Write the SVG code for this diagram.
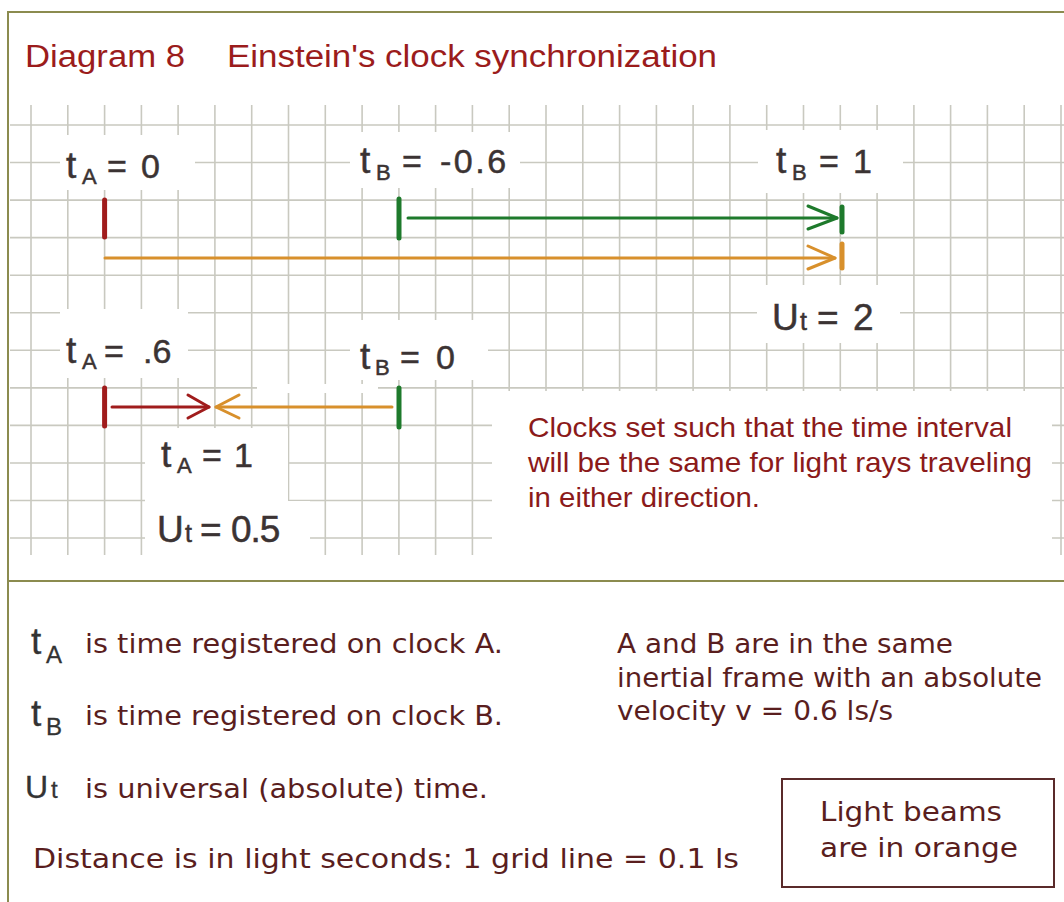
<svg xmlns="http://www.w3.org/2000/svg" width="1064" height="902" viewBox="0 0 1064 902">
<style>
.grid{stroke:#c9c9c0;stroke-width:1.6;fill:none}
.frame{stroke:#8b8b4f;stroke-width:2;fill:none}
.mask{fill:#ffffff}
.title{font-family:"Liberation Sans",Arial,sans-serif;font-size:31px;fill:#9b1c1c}
.lbl{font-family:"Liberation Sans",Arial,sans-serif;font-size:34px;fill:#3b3333;stroke:#3b3333;stroke-width:0.5}
.lblU{font-family:"Liberation Sans",Arial,sans-serif;font-size:37px;fill:#3b3333;stroke:#3b3333;stroke-width:0.5}
.tt{font-size:37px}
.sub{font-size:22px}
.subt{font-size:25px}
.note{font-family:"Liberation Sans",Arial,sans-serif;font-size:28px;fill:#8b1a1a}
.leg{font-family:"DejaVu Sans",Verdana,sans-serif;font-size:26px;fill:#5a1e1e}
.sym{font-family:"Liberation Sans",Arial,sans-serif;font-size:37px;fill:#333333;stroke:#333333;stroke-width:0.3}
.red{stroke:#a01c1c;fill:none}
.grn{stroke:#1e7a2c;fill:none}
.org{stroke:#d8902c;fill:none}
.tick{stroke-width:5;stroke-linecap:round}
.shaft{stroke-width:3;stroke-linecap:round;stroke-linejoin:round}
</style>
<rect x="0" y="0" width="1064" height="902" fill="#ffffff"/>
<g id="grid">
<path class="grid" d="M31 105V555M67.8 105V555M104.6 105V555M141.4 105V555M178.1 105V555M214.9 105V555M251.7 105V555M288.5 105V555M325.3 105V555M362.1 105V555M398.9 105V555M435.6 105V555M472.4 105V555M509.2 105V555M546 105V555M582.8 105V555M619.6 105V555M656.4 105V555M693.1 105V555M729.9 105V555M766.7 105V555M803.5 105V555M840.3 105V555M877.1 105V555M913.9 105V555M950.6 105V555M987.4 105V555M1024.2 105V555M1061 105V555"/>
<path class="grid" d="M10 125H1064M10 162.5H1064M10 200.1H1064M10 237.6H1064M10 275.2H1064M10 312.8H1064M10 350.3H1064M10 387.9H1064M10 425.4H1064M10 463H1064M10 500.5H1064M10 538H1064"/>
<rect class="mask" x="60" y="135" width="135" height="55"/>
<rect class="mask" x="350" y="132" width="170" height="56"/>
<rect class="mask" x="758" y="130" width="145" height="63"/>
<rect class="mask" x="757" y="285" width="143" height="58"/>
<rect class="mask" x="60" y="309" width="128" height="69"/>
<rect class="mask" x="350" y="320" width="138" height="60"/>
<rect class="mask" x="257" y="384" width="121" height="9"/>
<rect class="mask" x="145" y="428" width="143" height="73"/>
<rect class="mask" x="145" y="501" width="165" height="59"/>
<rect class="mask" x="492" y="391" width="560" height="189"/>
</g>
<g id="frame">
<path class="frame" d="M8 902V12H1064M8 581H1064"/>
</g>
<g id="title">
<text class="title" x="25" y="67" textLength="160" lengthAdjust="spacingAndGlyphs">Diagram 8</text>
<text class="title" x="227" y="67" textLength="490" lengthAdjust="spacingAndGlyphs">Einstein's clock synchronization</text>
</g>
<g id="label-tA0"><text class="lbl" y="178"><tspan class="tt" x="66">t</tspan><tspan class="sub" x="82" y="184">A</tspan><tspan x="107" y="178">=</tspan><tspan x="141">0</tspan></text></g>
<g id="label-tB-06"><text class="lbl" y="173"><tspan class="tt" x="360">t</tspan><tspan class="sub" x="376" y="180">B</tspan><tspan x="402" y="173">=</tspan><tspan x="440" letter-spacing="2.5">-0.6</tspan></text></g>
<g id="label-tB1"><text class="lbl" y="173"><tspan class="tt" x="776">t</tspan><tspan class="sub" x="792" y="180">B</tspan><tspan x="819" y="173">=</tspan><tspan x="853">1</tspan></text></g>
<g id="label-Ut2"><text class="lblU" y="330"><tspan x="772">U</tspan><tspan class="subt" x="800">t</tspan><tspan x="817">=</tspan><tspan x="853">2</tspan></text></g>
<g id="label-tA06"><text class="lbl" y="363"><tspan class="tt" x="66">t</tspan><tspan class="sub" x="82" y="369">A</tspan><tspan x="104" y="363">=</tspan><tspan x="143">.6</tspan></text></g>
<g id="label-tB0"><text class="lbl" y="369"><tspan class="tt" x="360">t</tspan><tspan class="sub" x="375" y="375">B</tspan><tspan x="400" y="369">=</tspan><tspan x="436">0</tspan></text></g>
<g id="label-tA1"><text class="lbl" y="467"><tspan class="tt" x="161">t</tspan><tspan class="sub" x="177" y="473">A</tspan><tspan x="202" y="467">=</tspan><tspan x="234">1</tspan></text></g>
<g id="label-Ut05"><text class="lblU" y="542"><tspan x="157">U</tspan><tspan class="subt" x="185">t</tspan><tspan x="200">=</tspan><tspan x="231" letter-spacing="-1">0.5</tspan></text></g>
<g id="connectors">
<line class="red tick" x1="104.6" y1="200" x2="104.6" y2="237"/>
<line class="grn tick" x1="399" y1="199" x2="399" y2="238"/>
<line class="grn shaft" x1="408" y1="218" x2="837" y2="218"/>
<polyline class="grn shaft" points="808,206 837,218 808,229"/>
<line class="grn tick" x1="842" y1="207" x2="842" y2="232"/>
<line class="org shaft" x1="105" y1="258" x2="835" y2="258"/>
<polyline class="org shaft" points="808,246 835,258 808,269"/>
<line class="org tick" x1="842" y1="244" x2="842" y2="268"/>
<line class="red tick" x1="104.6" y1="388" x2="104.6" y2="426"/>
<line class="red shaft" x1="112" y1="407" x2="209" y2="407"/>
<polyline class="red shaft" points="188,395 209,407 188,418"/>
<polyline class="org shaft" points="239,395 216,407 239,418"/>
<line class="org shaft" x1="216" y1="407" x2="392" y2="407"/>
<line class="grn tick" x1="399" y1="388" x2="399" y2="427"/>
</g>
<g id="note">
<text class="note" x="528" y="437" textLength="484" lengthAdjust="spacingAndGlyphs">Clocks set such that the time interval</text>
<text class="note" x="528" y="472" textLength="504" lengthAdjust="spacingAndGlyphs">will be the same for light rays traveling</text>
<text class="note" x="528" y="507" textLength="232" lengthAdjust="spacingAndGlyphs">in either direction.</text>
</g>
<g id="legend">
<text class="sym" y="654"><tspan x="31">t</tspan><tspan font-size="24" x="46" y="663">A</tspan></text>
<text class="leg" x="85" y="653" textLength="418" lengthAdjust="spacingAndGlyphs">is time registered on clock A.</text>
<text class="sym" y="726"><tspan x="31">t</tspan><tspan font-size="24" x="46" y="735">B</tspan></text>
<text class="leg" x="85" y="725" textLength="418" lengthAdjust="spacingAndGlyphs">is time registered on clock B.</text>
<text class="sym" y="798"><tspan x="25" font-size="32">U</tspan><tspan font-size="24" x="51">t</tspan></text>
<text class="leg" x="85" y="798" textLength="403" lengthAdjust="spacingAndGlyphs">is universal (absolute) time.</text>
<text class="leg" x="33" y="868" textLength="706" lengthAdjust="spacingAndGlyphs">Distance is in light seconds: 1 grid line = 0.1 ls</text>
<text class="leg" x="617" y="653" textLength="336" lengthAdjust="spacingAndGlyphs">A and B are in the same</text>
<text class="leg" x="617" y="687" textLength="425" lengthAdjust="spacingAndGlyphs">inertial frame with an absolute</text>
<text class="leg" x="617" y="720" textLength="276" lengthAdjust="spacingAndGlyphs">velocity v = 0.6 ls/s</text>
</g>
<g id="legend-box">
<rect x="782" y="779" width="272" height="108" fill="none" stroke="#5a2a2a" stroke-width="2"/>
<text class="leg" x="820" y="821" textLength="182" lengthAdjust="spacingAndGlyphs">Light beams</text>
<text class="leg" x="820" y="857" textLength="198" lengthAdjust="spacingAndGlyphs">are in orange</text>
</g>
</svg>
